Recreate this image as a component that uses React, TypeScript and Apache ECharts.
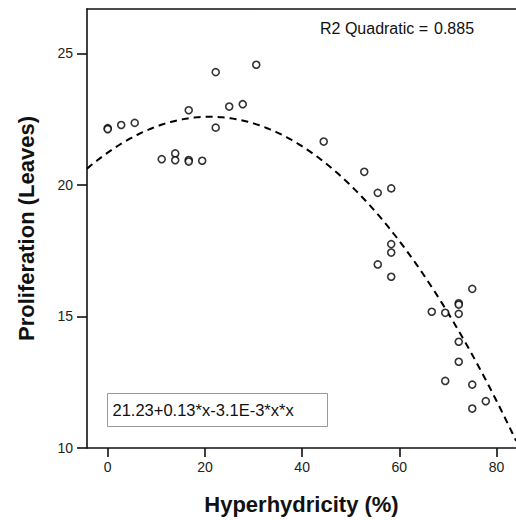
import React, { useEffect, useRef } from "react";
import * as echarts from "echarts";

// Observed points: Hyperhydricity (%) vs Proliferation (Leaves)
const hyperhydricity = [
  0, 0, 2.78, 5.56, 16.67, 22.22, 22.22, 25.0, 27.78, 30.56,
  11.11, 13.89, 13.89, 16.67, 16.67, 19.44,
  44.44, 52.78, 55.56, 58.33, 58.33, 58.33, 55.56, 58.33,
  75.0, 66.67, 69.44, 72.22, 72.22, 72.22, 72.22, 72.22,
  69.44, 75.0, 77.78, 75.0,
];
const leaves = [
  22.16, 22.12, 22.28, 22.36, 22.84, 24.29, 22.18, 22.98, 23.07, 24.57,
  20.98, 21.2, 20.94, 20.95, 20.89, 20.92,
  21.65, 20.5, 19.7, 19.87, 17.75, 17.43, 16.98, 16.51,
  16.05, 15.18, 15.14, 15.5, 15.45, 15.1, 14.04, 13.28,
  12.55, 12.41, 11.78, 11.5,
];

// Quadratic fit shown on the chart: 21.23 + 0.13x - 3.1E-3 x^2
const fitCoefficients = [21.23, 0.13, -3.1e-3];
const r2Label = "R2 Quadratic =";
const r2Value = "0.885";
const equationLabel = "21.23+0.13*x-3.1E-3*x*x";

const xTicks = [0, 20, 40, 60, 80];
const yTicks = [10, 15, 20, 25];
const xRange = [-4.26, 84];
const yRange = [10, 26.69];

const xTitle = "Hyperhydricity (%)";
const yTitle = "Proliferation (Leaves)";

const FONT = '"Liberation Sans", Arial, Helvetica, sans-serif';

export default function App() {
  const ref = useRef<HTMLDivElement>(null);

  useEffect(() => {
    if (!ref.current) return;
    const chart = echarts.init(ref.current, undefined, { renderer: "svg" });

    const scatterData = hyperhydricity.map((x, i) => [x, leaves[i]]);
    const fitData: number[][] = [];
    const steps = 200;
    for (let i = 0; i <= steps; i++) {
      const x = xRange[0] + ((xRange[1] - xRange[0]) * i) / steps;
      const y = fitCoefficients[0] + fitCoefficients[1] * x + fitCoefficients[2] * x * x;
      fitData.push([x, y]);
    }

    const axisLineStyle = { color: "#111", width: 1.6 };

    chart.setOption({
      animation: false,
      backgroundColor: "#fff",
      textStyle: { fontFamily: FONT },
      grid: { left: 87, right: 0, top: 9, bottom: 72, containLabel: false },
      xAxis: [
        {
          type: "value",
          min: xRange[0],
          max: xRange[1],
          position: "bottom",
          axisLine: { show: true, onZero: false, lineStyle: axisLineStyle },
          axisTick: {
            show: true,
            length: 9,
            inside: false,
            customValues: xTicks,
            lineStyle: axisLineStyle,
          },
          axisLabel: {
            show: true,
            customValues: xTicks,
            margin: 12,
            fontSize: 14,
            color: "#222",
            fontFamily: FONT,
          },
          splitLine: { show: false },
          name: xTitle,
          nameLocation: "middle",
          nameGap: 45,
          nameTextStyle: {
            fontSize: 22,
            fontWeight: "bold",
            color: "#111",
            fontFamily: FONT,
          },
        },
        {
          type: "value",
          min: xRange[0],
          max: xRange[1],
          position: "top",
          axisLine: { show: true, onZero: false, lineStyle: axisLineStyle },
          axisTick: { show: false },
          axisLabel: { show: false },
          splitLine: { show: false },
        },
      ],
      yAxis: {
        type: "value",
        min: yRange[0],
        max: yRange[1],
        axisLine: { show: true, onZero: false, lineStyle: axisLineStyle },
        axisTick: {
          show: true,
          length: 10,
          customValues: yTicks,
          lineStyle: axisLineStyle,
        },
        axisLabel: {
          show: true,
          customValues: yTicks,
          margin: 14,
          fontSize: 14,
          color: "#222",
          fontFamily: FONT,
        },
        splitLine: { show: false },
        name: yTitle,
        nameLocation: "middle",
        nameGap: 50,
        nameTextStyle: {
          fontSize: 22,
          fontWeight: "bold",
          color: "#111",
          fontFamily: FONT,
        },
      },
      series: [
        {
          type: "line",
          data: fitData,
          showSymbol: false,
          symbol: "none",
          smooth: false,
          clip: true,
          lineStyle: { color: "#000", width: 2, type: [7, 5] },
          z: 2,
        },
        {
          type: "scatter",
          data: scatterData,
          symbol: "circle",
          symbolSize: 7,
          itemStyle: { color: "#fff", borderColor: "#000", borderWidth: 1.6 },
          z: 3,
        },
      ],
      graphic: [
        {
          type: "text",
          left: 320,
          top: 20,
          style: {
            text: r2Label,
            fontSize: 16,
            fontFamily: FONT,
            fill: "#111",
          },
        },
        {
          type: "text",
          left: 434,
          top: 20,
          style: {
            text: r2Value,
            fontSize: 16,
            fontFamily: FONT,
            fill: "#111",
          },
        },
        {
          type: "group",
          left: 107,
          top: 393,
          children: [
            {
              type: "rect",
              shape: { x: 0, y: 0, width: 220, height: 33 },
              style: { fill: "#fff", stroke: "#999", lineWidth: 1 },
            },
            {
              type: "text",
              x: 5,
              y: 16.5,
              style: {
                text: equationLabel,
                fontSize: 16.5,
                fontFamily: FONT,
                fill: "#111",
                verticalAlign: "middle",
              },
            },
          ],
        },
      ],
    });

    return () => {
      chart.dispose();
    };
  }, []);

  return (
    <div
      ref={ref}
      style={{ position: "fixed", left: 0, top: 0, width: 516, height: 520, background: "#fff" }}
    />
  );
}
